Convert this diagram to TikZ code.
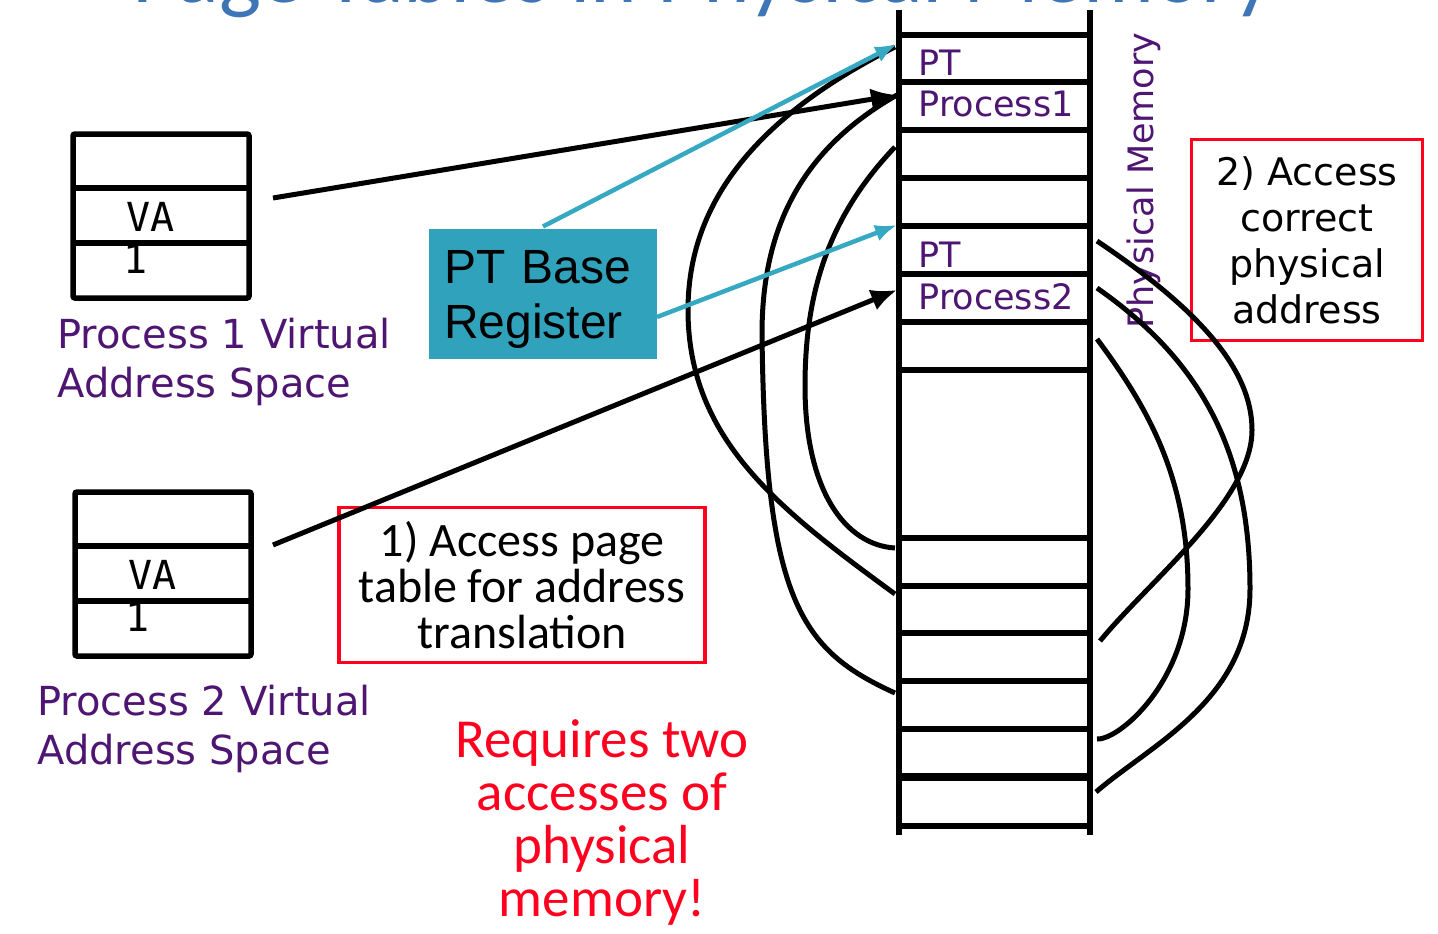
\documentclass[tikz,border=0pt]{standalone}
\usepackage{fontspec}
\setmainfont{DejaVu Sans}
\newfontfamily\calfont{Carlito}
\newfontfamily\arialfont{Liberation Sans}
\newfontfamily\vafont{DejaVu Sans Mono}
\usepackage{xcolor}
\usetikzlibrary{arrows.meta, positioning}

\definecolor{titleblue}{RGB}{62,117,182}
\definecolor{memviolet}{RGB}{78,22,114}
\definecolor{regteal}{RGB}{49,162,187}
\definecolor{arrowteal}{RGB}{54,168,193}
\definecolor{notered}{RGB}{255,0,30}

\begin{document}
\begin{tikzpicture}[x=1pt, y=-1pt, line width=5pt,
		memline/.style={line width=5.5pt},
		vabox/.style={line width=5.5pt, rounded corners=2pt},
		vatext/.style={anchor=base west, inner sep=0pt, font=\vafont\fontsize{40}{44}\selectfont},
		cell/.style={anchor=base west, inner sep=0pt, text=memviolet, font=\fontsize{35}{40}\selectfont},
		spacelabel/.style={anchor=base west, inner sep=0pt, align=left, text=memviolet, font=\fontsize{40}{49}\selectfont},
		notebox/.style={draw=notered, line width=3.5pt, align=center, inner sep=0pt},
		blackarrow/.style={-{Latex[length=26pt, width=22pt]}},
		tealarrow/.style={draw=arrowteal, line width=4.5pt, -{Latex[length=22pt, width=17pt]}}]
		\useasboundingbox (0,0) rectangle (1438,934);
		\clip (0,0) rectangle (1438,934);

		% title, cut by the top edge
		\node [anchor=base west, inner sep=0pt, text=titleblue, font=\calfont\fontsize{89}{92}\selectfont] (title) at (130, 3) {Page Tables in Physical Memory};

		% virtual address spaces
		\draw [vabox] (73,134) rectangle (249,298);
		\draw [vabox] (73,188) -- (249,188) (73,243) -- (249,243);
		\node [vatext] (va1) at (124,231) {VA};
		\node [vatext] (one1) at (121,273) {1};
		\node [spacelabel] (space1) at (55,397) {Process 1 Virtual\\Address Space};

		\draw [vabox] (75,492) rectangle (251,656);
		\draw [vabox] (75,546) -- (251,546) (75,601) -- (251,601);
		\node [vatext] (va2) at (126,589) {VA};
		\node [vatext] (one2) at (123,631) {1};
		\node [spacelabel] (space2) at (35,764) {Process 2 Virtual\\Address Space};

		% physical memory
		\draw [memline] (899,10) -- (899,835) (1090,10) -- (1090,835);
		\draw [memline] (899,35) -- (1090,35) (899,82) -- (1090,82) (899,130) -- (1090,130)
			(899,178) -- (1090,178) (899,226) -- (1090,226) (899,274) -- (1090,274)
			(899,322) -- (1090,322) (899,370) -- (1090,370) (899,538) -- (1090,538)
			(899,586) -- (1090,586) (899,633) -- (1090,633) (899,681) -- (1090,681)
			(899,729) -- (1090,729) (899,826) -- (1090,826);
		\draw [line width=7.5pt] (899,777) -- (1090,777);
		\node [cell] (pt1) at (916,75) {PT};
		\node [cell] (proc1) at (916,117) {Process1};
		\node [cell] (pt2) at (916,267) {PT};
		\node [cell] (proc2) at (916,309) {Process2};
		\node [cell, rotate=90] (memlabel) at (1153,331) {Physical Memory};

		% register and notes
		\node [fill=regteal, text width=198pt, inner xsep=15pt, minimum height=130pt, align=left, font=\arialfont\fontsize{48}{55}\selectfont] (ptbr) at (543,294) {\rule{0pt}{44pt}PT Base\\Register};
		\node [notebox, minimum width=366pt, minimum height=155pt, font=\calfont\fontsize{48}{46}\selectfont] (step1) at (522,585) {1) Access page\\table for address\\translation};
		\node [notebox, minimum width=231pt, minimum height=201pt, font=\fontsize{38}{46}\selectfont] (step2) at (1307,240) {2) Access\\correct\\physical\\address};
		\node [align=center, text=notered, font=\calfont\fontsize{55}{53}\selectfont] (warn) at (602,823) {Requires two\\accesses of\\physical\\memory!};

		% arrow ends
		\coordinate (pt1in) at (897,44);
		\coordinate (proc1in) at (897,95);
		\coordinate (pt2in) at (897,225);
		\coordinate (proc2in) at (897,290);
		\coordinate (va1out) at (273,198);
		\coordinate (va2out) at (273,545);
		\coordinate (ptbrout) at (657,317);

		% page table entries to frames
		\coordinate (entry1) at (895,47);
		\coordinate (entry2) at (897,95);
		\coordinate (entry3) at (895,147);
		\coordinate (frame1) at (895,594);
		\coordinate (frame2) at (895,693);
		\coordinate (frame3) at (895,548);
		\coordinate (entry4) at (1097,241);
		\coordinate (entry5) at (1097,288);
		\coordinate (entry6) at (1097,339);
		\coordinate (frame4) at (1100,641);
		\coordinate (frame5) at (1096,792);
		\coordinate (frame6) at (1097,739);

		\draw (entry1) .. controls (760,115) and (688,200) .. (688,310) .. controls (688,440) and (780,510) .. (frame1);
		\draw (entry2) .. controls (800,150) and (762,230) .. (762,334) .. controls (765,600) and (800,650) .. (frame2);
		\draw (entry3) .. controls (830,215) and (805,290) .. (805,386) .. controls (805,490) and (845,545) .. (frame3);
		\draw (entry4) .. controls (1200,310) and (1252,370) .. (1252,430) .. controls (1252,500) and (1150,580) .. (frame4);
		\draw (entry5) .. controls (1200,360) and (1250,450) .. (1250,589) .. controls (1250,700) and (1150,745) .. (frame5);
		\draw (entry6) .. controls (1150,410) and (1188,480) .. (1188,589) .. controls (1188,680) and (1120,740) .. (frame6);

		\draw [blackarrow] (va1out) -- (proc1in);
		\draw [blackarrow] (va2out) -- (proc2in);
		\draw [tealarrow] (ptbr.north) -- (pt1in);
		\draw [tealarrow] (ptbrout) -- (pt2in);
	\end{tikzpicture}
\end{document}
